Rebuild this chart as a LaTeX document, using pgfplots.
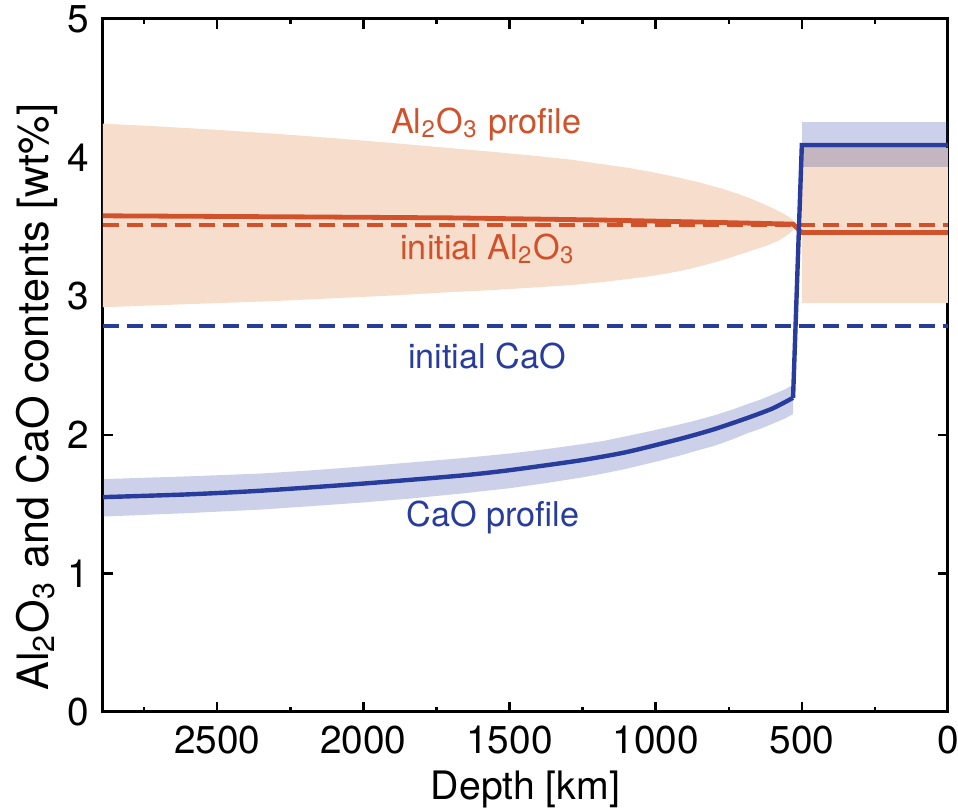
\documentclass[border=0pt]{standalone}
\usepackage{fontspec}
\setmainfont{TeX Gyre Heros}
\usepackage{pgfplots}
\pgfplotsset{compat=1.18}
\definecolor{oline}{RGB}{209,82,42}
\definecolor{bline}{RGB}{40,60,158}
\definecolor{ofill}{RGB}{246,221,204}
\begin{document}
\begin{tikzpicture}
\begin{axis}[
  scale only axis, width=211.25pt, height=173.25pt,
  xmin=0, xmax=2891, ymin=0, ymax=5, x dir=reverse,
  xtick={0,500,...,2500}, minor xtick={250,750,...,2750},
  ytick={0,1,...,5},
  tick align=inside, major tick length=2.5pt, minor tick length=1.3pt,
  every tick/.style={black, line width=0.6pt},
  axis line style={line width=0.75pt},
  /pgf/number format/assume math mode=true,
  /pgf/number format/1000 sep={},
  ticklabel style={font=\fontsize{9.7}{11}\selectfont},
  xlabel={Depth [km]},
  ylabel={Al\textsubscript{2}O\textsubscript{3} and CaO contents [wt\%]},
  xlabel style={at={(axis description cs:0.5,-0.127)}, anchor=base, inner sep=0pt, font=\fontsize{9.8}{11}\selectfont},
  ylabel style={at={(axis description cs:-0.1041,0.4545)}, anchor=north, inner sep=0pt, font=\fontsize{10.8}{12}\selectfont},
  clip=true,
]
% Al2O3 band (deep part)
\addplot[fill=ofill, draw=none] coordinates {
 (2891,4.245) (2700,4.225) (2500,4.20) (2300,4.172) (2100,4.14) (1900,4.105) (1738,4.075) (1550,4.04) (1400,4.01) (1290,3.985) (1190,3.955) (1090,3.925) (1000,3.89) (920,3.855) (849,3.82) (780,3.78) (720,3.74) (670,3.70) (620,3.655) (580,3.615) (550,3.58) (530,3.55)
 (530,3.475) (550,3.44) (580,3.40) (620,3.365) (670,3.33) (720,3.295) (780,3.255) (849,3.215) (920,3.18) (1000,3.15) (1090,3.125) (1190,3.10) (1290,3.08) (1400,3.065) (1550,3.045) (1738,3.025) (1900,3.005) (2100,2.985) (2300,2.965) (2500,2.95) (2700,2.935) (2891,2.92)
} -- cycle;
% Al2O3 band (upper mantle)
\addplot[fill=ofill, draw=none] coordinates {(500,4.07) (0,4.07) (0,2.95) (500,2.95)} -- cycle;
% CaO band (deep part)
\addplot[fill=bline, fill opacity=0.24, draw=none] coordinates {
 (2891,1.68) (2600,1.70) (2354,1.72) (2180,1.743) (2012,1.77) (1840,1.80) (1670,1.83) (1498,1.865) (1380,1.895) (1259,1.93) (1180,1.955) (1100,1.99) (1010,2.03) (917,2.075) (860,2.105) (800,2.14) (740,2.18) (688,2.22) (640,2.255) (600,2.29) (560,2.325) (530,2.36)
 (530,2.15) (560,2.115) (600,2.08) (640,2.045) (688,2.01) (740,1.965) (800,1.92) (860,1.885) (917,1.85) (1010,1.80) (1100,1.755) (1180,1.72) (1259,1.69) (1380,1.65) (1498,1.615) (1670,1.575) (1840,1.54) (2012,1.51) (2180,1.485) (2354,1.46) (2600,1.435) (2891,1.41)
} -- cycle;
% CaO band (upper mantle)
\addplot[fill=bline, fill opacity=0.24, draw=none] coordinates {(500,4.26) (0,4.26) (0,3.93) (500,3.93)} -- cycle;
% initial lines
\addplot[oline, line width=1pt, dash pattern=on 4pt off 2pt] coordinates {(2891,3.516) (0,3.516)};
\addplot[bline, line width=1.1pt, dash pattern=on 4pt off 2pt] coordinates {(2891,2.787) (0,2.787)};
% profiles
\addplot[oline, line width=1.2pt] coordinates {
 (2891,3.58) (2200,3.572) (1700,3.565) (1200,3.55) (850,3.535) (530,3.52) (500,3.46) (0,3.46)};
\addplot[bline, line width=1.1pt, smooth, tension=0.4] coordinates {
 (2891,1.55) (2600,1.57) (2354,1.596) (2012,1.646) (1670,1.705) (1498,1.745) (1259,1.815) (1100,1.875) (917,1.97) (800,2.04) (688,2.12) (600,2.19) (530,2.267)};
\addplot[bline, line width=1.1pt] coordinates {(530,2.267) (500,4.09) (0,4.09)};
% labels
\node[text=oline, anchor=base, font=\fontsize{8.55}{10}\selectfont] at (axis cs:1580,4.177) {Al\textsubscript{2}O\textsubscript{3} profile};
\node[text=oline, anchor=base, font=\fontsize{8.55}{10}\selectfont] at (axis cs:1574,3.268) {initial Al\textsubscript{2}O\textsubscript{3}};
\node[text=bline, anchor=base, font=\fontsize{8.55}{10}\selectfont] at (axis cs:1577,2.475) {initial CaO};
\node[text=bline, anchor=base, font=\fontsize{8.55}{10}\selectfont] at (axis cs:1556,1.335) {CaO profile};
\end{axis}
\pgfresetboundingbox
\useasboundingbox (-25.75pt,-24.5pt) rectangle (213.75pt,178pt);
\end{tikzpicture}
\end{document}
